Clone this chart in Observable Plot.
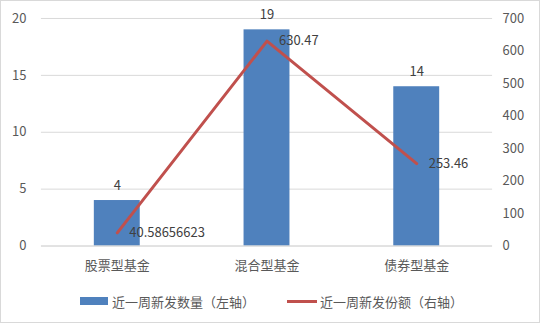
<!DOCTYPE html>
<html><head><meta charset="utf-8">
<script src="https://cdn.jsdelivr.net/npm/d3@7"></script>
<script src="https://cdn.jsdelivr.net/npm/@observablehq/plot@0.6"></script>
<style>
html,body{margin:0;padding:0;background:#fff;}
#wrap{position:relative;width:540px;height:323px;box-sizing:border-box;border:1px solid #d9d9d9;overflow:hidden;font-family:"Noto Sans CJK SC","Noto Sans",sans-serif;}
#chart{position:absolute;left:-1px;top:-1px;}
#legend{position:absolute;left:0;top:290px;width:538px;font-size:13px;color:#595959;}
.item{position:absolute;top:0;display:flex;align-items:center;height:20px;white-space:nowrap;}
</style>
</head><body>
<div id="wrap"><div id="chart"></div><div id="legend"></div></div>
<script>
const categories = ["股票型基金", "混合型基金", "债券型基金"];
const counts = [4, 19, 14];
const amounts = [40.58656623, 630.47, 253.46];
const amountLabels = ["40.58656623", "630.47", "253.46"];
const leftTicks = [0, 5, 10, 15, 20];
const rightTicks = [0, 100, 200, 300, 400, 500, 600, 700];
const seriesNames = ["近一周新发数量（左轴）", "近一周新发份额（右轴）"];

const leftMax = 20, rightMax = 700;
const k = leftMax / rightMax;
const data = categories.map((c, i) => ({cat: c, count: counts[i], amount: amounts[i], label: amountLabels[i]}));

const chart = Plot.plot({
  width: 540,
  height: 286,
  marginLeft: 41,
  marginRight: 47,
  marginTop: 18,
  marginBottom: 40,
  style: {fontFamily: '"Noto Sans CJK SC","Noto Sans",sans-serif', fontSize: "13px", color: "#595959", background: "transparent"},
  x: {domain: categories, paddingInner: 0.695, paddingOuter: 0.3475, label: null},
  y: {domain: [0, leftMax], label: null},
  marks: [
    Plot.gridY(leftTicks, {stroke: "#d9d9d9", strokeOpacity: 1, strokeWidth: 1}),
    Plot.axisY({ticks: leftTicks, tickSize: 0, tickPadding: 15, label: null, fontSize: 13}),
    Plot.axisY({anchor: "right", ticks: rightTicks.map(v => v * k), tickFormat: d => String(Math.round(d / k)), tickSize: 0, tickPadding: 10, textAnchor: "start", label: null, fontSize: 13}),
    Plot.axisX({tickSize: 0, tickPadding: 15, label: null, fontSize: 13}),
    Plot.barY(data, {x: "cat", y: "count", fill: "#4f81bd"}),
    Plot.ruleY([0], {stroke: "#d9d9d9"}),
    Plot.text(data, {x: "cat", y: "count", text: d => String(d.count), dy: -15, fill: "#404040", fontSize: 13}),
    Plot.line(data, {x: "cat", y: d => d.amount * k, stroke: "#c0504d", strokeWidth: 3}),
    Plot.text(data, {x: "cat", y: d => d.amount * k, text: "label", textAnchor: "start", dx: 12, fill: "#404040", fontSize: 13})
  ]
});
document.getElementById("chart").appendChild(chart);

const legend = d3.select("#legend");
const it1 = legend.append("div").attr("class", "item").style("left", "79px");
it1.append("span").style("display", "inline-block").style("width", "28px").style("height", "8px").style("background", "#4f81bd").style("margin-right", "4px");
it1.append("span").text(seriesNames[0]);
const it2 = legend.append("div").attr("class", "item").style("left", "286px");
it2.append("span").style("display", "inline-block").style("width", "30px").style("height", "3px").style("background", "#c0504d").style("margin-right", "3px");
it2.append("span").text(seriesNames[1]);
</script>
</body></html>
